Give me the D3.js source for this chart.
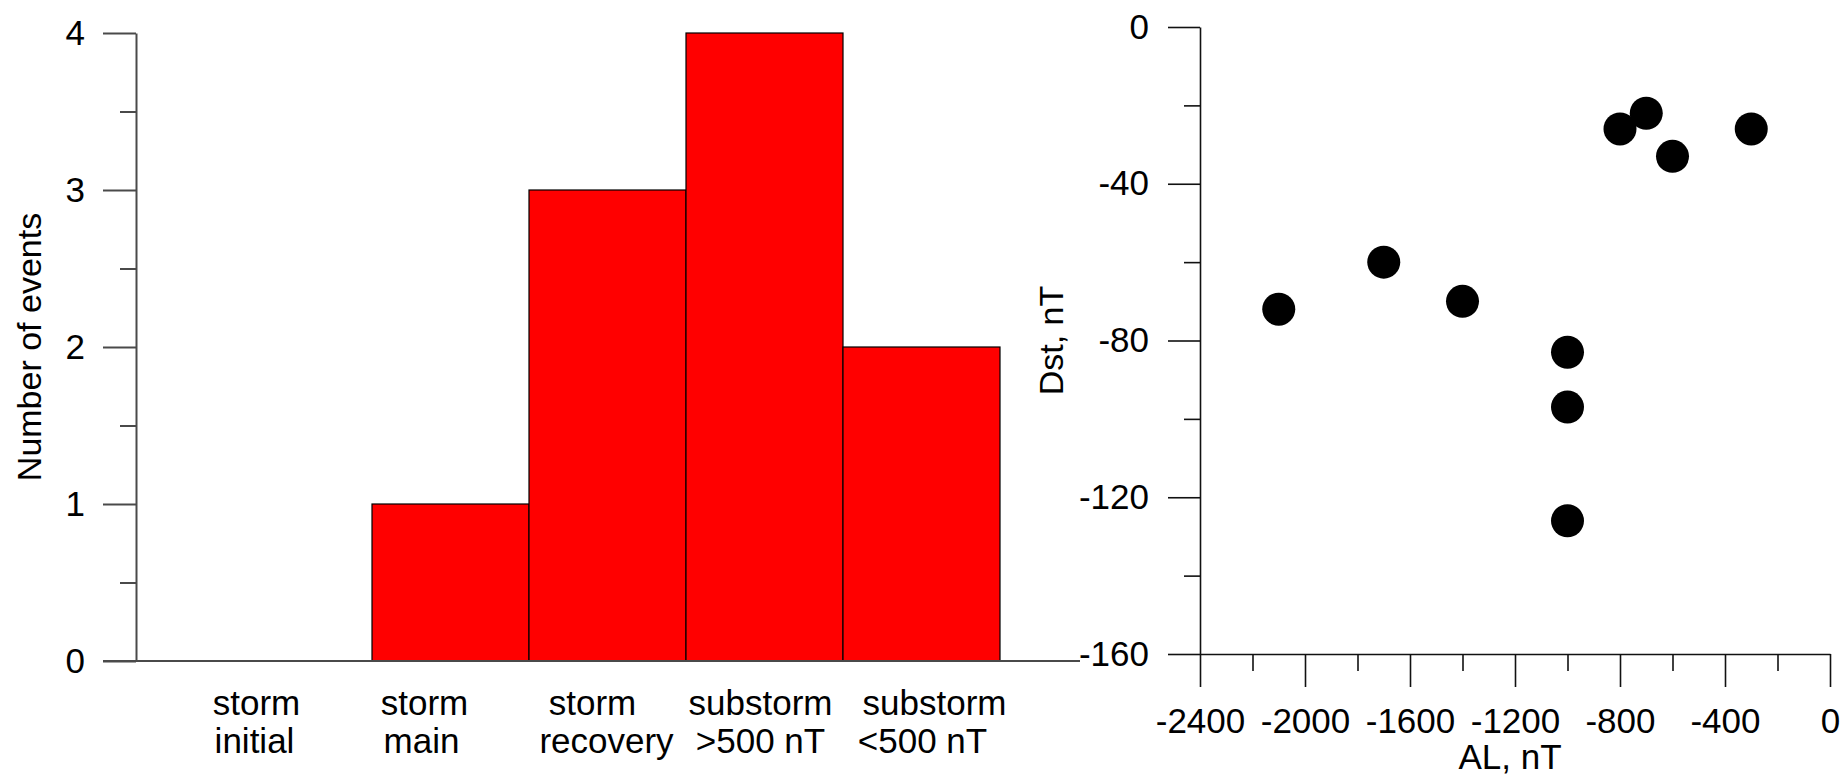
<!DOCTYPE html>
<html>
<head>
<meta charset="utf-8">
<script src="https://cdn.jsdelivr.net/npm/d3@7/dist/d3.min.js"></script>
<style>
  html, body { margin: 0; padding: 0; background: #fff; }
  svg { display: block; }
  text { font-family: Arial, "Liberation Sans", sans-serif; fill: #000; }
</style>
</head>
<body>
<svg id="chart" width="1841" height="778"></svg>
<script>
// ---------- data ----------
const categoriesLine1 = ["storm", "storm", "storm", "substorm", "substorm"];
const categoriesLine2 = ["initial", "main", "recovery", ">500 nT", "<500 nT"];
const categoryKeys = ["storm initial", "storm main", "storm recovery", "substorm >500 nT", "substorm <500 nT"];
const eventCounts = [0, 1, 3, 4, 2];
const countTicks = [0, 1, 2, 3, 4];

const alValues  = [-2100, -1700, -1400, -800, -700, -600, -300, -1000, -1000, -1000];
const dstValues = [-72, -60, -70, -26, -22, -33, -26, -83, -97, -126];
const alTicks  = [-2400, -2000, -1600, -1200, -800, -400, 0];
const dstTicks = [0, -40, -80, -120, -160];

// ---------- layout ----------
const svg = d3.select("#chart");
const FONT = 35;

// ===== Left: histogram =====
const L = { axisX: 136, top: 33, bottom: 661, bandLeft: 215, bandRight: 1000, baseLeft: 103, baseRight: 1080 };
const xBand = d3.scaleBand().domain(categoryKeys).range([L.bandLeft, L.bandRight]).padding(0);
const yCount = d3.scaleLinear().domain([0, 4]).range([L.bottom, L.top]);
const leftAxisColor = "#4a4a4a";

const gL = svg.append("g");

// bars
gL.selectAll("rect.bar")
  .data(eventCounts.map((v, i) => ({ key: categoryKeys[i], v })).filter(d => d.v > 0))
  .join("rect")
  .attr("class", "bar")
  .attr("x", d => xBand(d.key))
  .attr("y", d => yCount(d.v))
  .attr("width", xBand.bandwidth())
  .attr("height", d => yCount(0) - yCount(d.v))
  .attr("fill", "#ff0000")
  .attr("stroke", "#000")
  .attr("stroke-width", 1.2);

// y axis major
const yAxisL = gL.append("g").attr("transform", `translate(${L.axisX},0)`)
  .call(d3.axisLeft(yCount).tickValues(countTicks).tickFormat(d3.format("d")).tickSize(33).tickSizeOuter(0).tickPadding(18));
// y axis minor
const yAxisLm = gL.append("g").attr("transform", `translate(${L.axisX},0)`)
  .call(d3.axisLeft(yCount).tickValues([0.5, 1.5, 2.5, 3.5]).tickFormat("").tickSize(16).tickSizeOuter(0));
yAxisLm.select(".domain").remove();
[yAxisL, yAxisLm].forEach(a => {
  a.selectAll("path,line").attr("stroke", leftAxisColor).attr("stroke-width", 2);
  a.selectAll("text").attr("font-size", FONT).attr("font-family", "Arial, 'Liberation Sans', sans-serif").attr("fill", "#000");
});

// baseline
gL.append("line")
  .attr("x1", L.baseLeft).attr("x2", L.baseRight)
  .attr("y1", yCount(0)).attr("y2", yCount(0))
  .attr("stroke", leftAxisColor).attr("stroke-width", 2);

// category labels (two lines)
const nudge1 = [-37, -26, -15, -4, 13];
const nudge2 = [-39, -29, -1, -4, 1];
categoryKeys.forEach((k, i) => {
  const cx = xBand(k) + xBand.bandwidth() / 2;
  gL.append("text").attr("x", cx + nudge1[i]).attr("y", 715)
    .attr("text-anchor", "middle").attr("font-size", FONT).text(categoriesLine1[i]);
  gL.append("text").attr("x", cx + nudge2[i]).attr("y", 753)
    .attr("text-anchor", "middle").attr("font-size", FONT).text(categoriesLine2[i]);
});

// y title
gL.append("text")
  .attr("transform", `translate(41,${(L.top + L.bottom) / 2}) rotate(-90)`)
  .attr("text-anchor", "middle").attr("font-size", 34)
  .text("Number of events");

// ===== Right: scatter =====
const R = { left: 1200, right: 1830, top: 27, bottom: 654 };
const xAL = d3.scaleLinear().domain([-2400, 0]).range([R.left, R.right]);
const yDst = d3.scaleLinear().domain([-160, 0]).range([R.bottom, R.top]);
const rightAxisColor = "#111";

const gR = svg.append("g");

const xAxisR = gR.append("g").attr("transform", `translate(0,${R.bottom})`)
  .call(d3.axisBottom(xAL).tickValues(alTicks).tickFormat(d3.format("d")).tickSize(33).tickSizeOuter(0).tickPadding(21));
const xAxisRm = gR.append("g").attr("transform", `translate(0,${R.bottom})`)
  .call(d3.axisBottom(xAL).tickValues([-2200, -1800, -1400, -1000, -600, -200]).tickFormat("").tickSize(17).tickSizeOuter(0));
xAxisRm.select(".domain").remove();

const yAxisR = gR.append("g").attr("transform", `translate(${R.left},0)`)
  .call(d3.axisLeft(yDst).tickValues(dstTicks).tickFormat(d3.format("d")).tickSize(32).tickSizeOuter(0).tickPadding(19));
const yAxisRm = gR.append("g").attr("transform", `translate(${R.left},0)`)
  .call(d3.axisLeft(yDst).tickValues([-20, -60, -100, -140]).tickFormat("").tickSize(16).tickSizeOuter(0));
yAxisRm.select(".domain").remove();

[xAxisR, xAxisRm, yAxisR, yAxisRm].forEach(a => {
  a.selectAll("path,line").attr("stroke", rightAxisColor).attr("stroke-width", 1.6);
  a.selectAll("text").attr("font-size", FONT).attr("font-family", "Arial, 'Liberation Sans', sans-serif").attr("fill", "#000");
});
// minus sign as hyphen, like the reference
gR.selectAll(".tick text").text(function () { return d3.select(this).text().replace("\u2212", "-"); });

// points
gR.selectAll("circle.pt")
  .data(alValues.map((a, i) => ({ a, d: dstValues[i] })))
  .join("circle")
  .attr("class", "pt")
  .attr("cx", d => xAL(d.a))
  .attr("cy", d => yDst(d.d))
  .attr("r", 16.5)
  .attr("fill", "#000");

// titles
gR.append("text")
  .attr("x", (R.left + R.right) / 2 - 5).attr("y", 769)
  .attr("text-anchor", "middle").attr("font-size", FONT)
  .text("AL, nT");
gR.append("text")
  .attr("transform", `translate(1063,${(R.top + R.bottom) / 2}) rotate(-90)`)
  .attr("text-anchor", "middle").attr("font-size", 34)
  .text("Dst, nT");
</script>
</body>
</html>
